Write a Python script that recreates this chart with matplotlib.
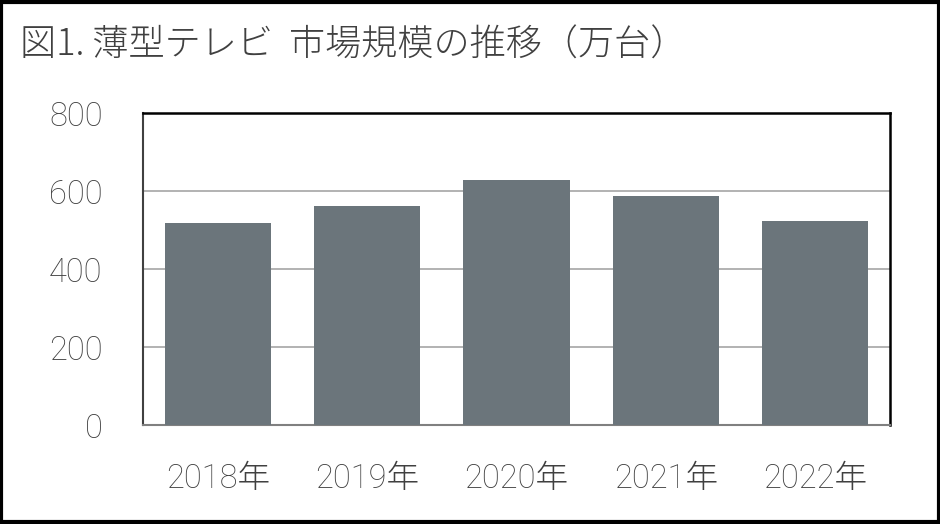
import matplotlib
matplotlib.use("Agg")
import matplotlib.pyplot as plt
from matplotlib.patches import Rectangle

plt.rcParams['font.family'] = ['Roboto', 'Noto Sans CJK JP', 'DejaVu Sans']

title = "図1. 薄型テレビ  市場規模の推移（万台）"
categories = ["2018年", "2019年", "2020年", "2021年", "2022年"]
values = [519, 562, 628, 587, 523]
yticks = [0, 200, 400, 600, 800]

W, H = 940, 524
fig = plt.figure(figsize=(W/100, H/100), dpi=100)
ax = fig.add_axes([143/W, 1-425/H, (890-143)/W, (425-113)/H])

ax.bar(range(len(categories)), values, width=0.71, color="#6b757b", zorder=3)
ax.set_xlim(-0.5, len(categories)-0.5)
ax.set_ylim(0, 800)
ax.set_yticks(yticks)
ax.set_yticklabels([str(v) for v in yticks])
ax.set_xticks(range(len(categories)))
ax.set_xticklabels(categories)
ax.yaxis.grid(True, color="#a6a6a6", linewidth=1.2, zorder=0)
ax.tick_params(axis='both', length=0, labelcolor="#404040", labelsize=23.5)
ax.tick_params(axis='y', pad=29)
ax.tick_params(axis='x', pad=27)
for lbl in ax.get_xticklabels() + ax.get_yticklabels():
    lbl.set_fontweight('light')
for s in ['top', 'right']:
    ax.spines[s].set_color('black')
    ax.spines[s].set_linewidth(1.8)
ax.spines['left'].set_color('#404040')
ax.spines['left'].set_linewidth(1.5)
ax.spines['bottom'].set_color('#808080')
ax.spines['bottom'].set_linewidth(1.5)

fig.text(20/W, 1-45/H, title, fontsize=26, color="#404040", va='center', ha='left',
         fontweight='light', family=['Noto Sans CJK JP', 'DejaVu Sans'])

fig.patches.append(Rectangle((0.0015, 0.003), 0.997, 0.994, transform=fig.transFigure,
                             fill=False, edgecolor='black', linewidth=3))

fig.savefig("out.png", dpi=100)
